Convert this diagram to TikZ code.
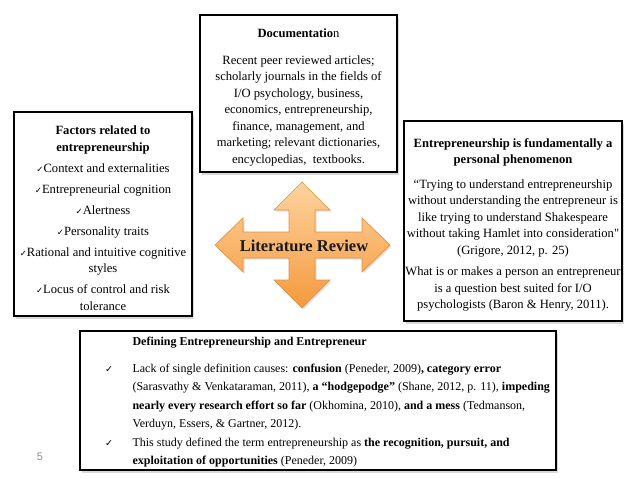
\documentclass[tikz,border=0pt]{standalone}
\usepackage{fontspec}
\setmainfont{Liberation Serif}
\newfontfamily\plainserif[Ligatures=ResetAll]{Liberation Serif}
\newfontfamily\dvfont{DejaVu Sans}
\newfontfamily\pagefont{Liberation Sans}
\usetikzlibrary{shadows}
\definecolor{orangeA}{HTML}{FDD3A0}
\definecolor{orangeB}{HTML}{F5993C}
\definecolor{orangeEdge}{HTML}{E3913F}
\newcommand{\chk}{{\dvfont\fontsize{8.5}{8.5}\selectfont ✓}}
\newcommand{\bchk}{\makebox[28pt][l]{\hspace*{0.5pt}{\dvfont\fontsize{9.5}{9.5}\selectfont ✓}}}
\newcommand{\straightq}{{\plainserif"}}
\begin{document}
\begin{tikzpicture}[x=1pt,y=-1pt,
  infobox/.style={draw=black, line width=1.3pt, fill=white, inner sep=0pt,
    drop shadow={opacity=0.3, shadow xshift=2pt, shadow yshift=-2.5pt}},
  boxtext/.style={align=center, inner sep=0pt, font=\fontsize{12.6}{16.5}\selectfont},
  lrtext/.style={font=\fontsize{16.5}{18}\selectfont\bfseries, text=black!90},
]
\useasboundingbox (0,0) rectangle (638,479);

% Documentation
\node[infobox, minimum width=197pt, minimum height=157pt] (doc) at (298.5,93.5) {};
\node[boxtext] (doctext) at ([yshift=-4pt]doc.center)
 {\textbf{Documentatio}n\\[10pt]
  Recent peer reviewed articles;\\
  scholarly journals in the fields of\\
  I/O psychology, business,\\
  economics, entrepreneurship,\\
  finance, management, and\\
  marketing; relevant dictionaries,\\
  encyclopedias,~ textbooks.};

% Factors
\node[infobox, minimum width=178pt, minimum height=204pt] (fac) at (103,214) {};
\node[boxtext] (factext) at ([yshift=-4pt]fac.center)
 {\textbf{Factors related to}\\
  \textbf{entrepreneurship}\\[4.5pt]
  \chk Context and externalities\\[4.5pt]
  \chk Entrepreneurial cognition\\[4.5pt]
  \chk Alertness\\[4.5pt]
  \chk Personality traits\\[4.5pt]
  \chk Rational and intuitive cognitive\\
  styles\\[4.5pt]
  \chk Locus of control and risk\\
  tolerance};

% Entrepreneurship personal phenomenon
\node[infobox, minimum width=218pt, minimum height=200pt] (per) at (513,221) {};
\node[boxtext] (pertext) at ([yshift=-4pt]per.center)
 {\textbf{Entrepreneurship is fundamentally a}\\
  \textbf{personal phenomenon}\\[8pt]
  “Trying to understand entrepreneurship\\
  without understanding the entrepreneur is\\
  like trying to understand Shakespeare\\
  without taking Hamlet into consideration\straightq\\
  (Grigore, 2012, p. 25)\\[5pt]
  What is or makes a person an entrepreneur\\
  is a question best suited for I/O\\
  psychologists (Baron \& Henry, 2011).};

% Defining box
\node[infobox, minimum width=476pt, minimum height=139pt] (def) at (318,400.5) {};
\node[anchor=west, align=left, inner sep=0pt, font=\fontsize{12}{18.5}\selectfont] (deftext) at ([xshift=25pt,yshift=-2pt]def.west)
 {\hspace*{28pt}\textbf{Defining Entrepreneurship and Entrepreneur}\\[8pt]
  \bchk Lack of single definition causes: \textbf{confusion} (Peneder, 2009)\textbf{, category error}\\
  \hspace*{28pt}(Sarasvathy \& Venkataraman, 2011), \textbf{a “hodgepodge”} (Shane, 2012, p. 11), \textbf{impeding}\\
  \hspace*{28pt}\textbf{nearly every research effort so far} (Okhomina, 2010), \textbf{and a mess} (Tedmanson,\\
  \hspace*{28pt}Verduyn, Essers, \& Gartner, 2012).\\[0pt]
  \bchk This study defined the term entrepreneurship as \textbf{the recognition, pursuit, and}\\
  \hspace*{28pt}\textbf{exploitation of opportunities} (Peneder, 2009)};

% Four-way arrow
\path[draw=orangeEdge, line width=0.7pt, top color=orangeA, bottom color=orangeB,
      drop shadow={opacity=0.25, shadow xshift=1.5pt, shadow yshift=-1.5pt}]
  (302,182) -- (330,210) -- (315,210) -- (315,232) -- (362,232) -- (362,218)
  -- (390,245) -- (362,272) -- (362,258) -- (315,258) -- (315,280) -- (330,280)
  -- (302,308) -- (274,280) -- (289,280) -- (289,258) -- (243,258) -- (243,272)
  -- (215,245) -- (243,218) -- (243,232) -- (289,232) -- (289,210) -- (274,210) -- cycle;
\node[lrtext] (lr) at (304,246) {Literature Review};

% Page number
\node[font=\pagefont\fontsize{11}{11}\selectfont, text=black!45] (pg) at (40,457) {5};
\end{tikzpicture}
\end{document}
